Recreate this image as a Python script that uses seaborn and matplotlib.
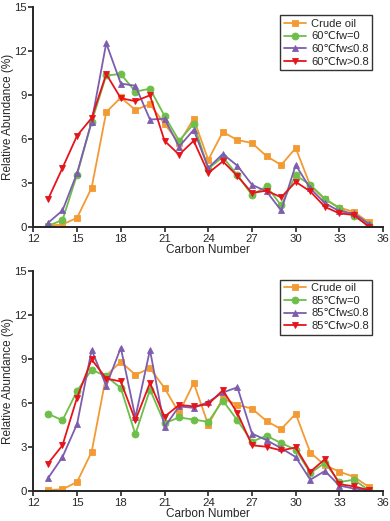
import numpy as np
import pandas as pd
import seaborn as sns
import matplotlib.pyplot as plt

# --- data (relative abundance, %) ---
carbon = list(range(13, 36))

crude_top = [0.05, 0.15, 0.6, 2.65, 7.8, 8.8, 7.95, 8.35, 7.0, 5.7, 7.35, 4.55,
             6.45, 5.9, 5.7, 4.8, 4.2, 5.35, 2.8, 1.85, 1.3, 1.0, 0.3]
fw0_60 = [0.05, 0.45, 3.55, 7.15, 10.3, 10.4, 9.2, 9.4, 7.55, 5.85, 7.0, 3.95,
          4.75, 3.5, 2.15, 2.75, 1.45, 3.5, 2.85, 1.9, 1.25, 0.7, 0.1]
fwle_60 = [0.25, 1.1, 3.65, 7.15, 12.5, 9.75, 9.6, 7.3, 7.35, 5.45, 6.6, 4.0,
           4.95, 4.15, 2.85, 2.4, 1.1, 4.2, 2.6, 1.6, 1.05, 0.9, 0.2]
fwgt_60 = [1.85, 4.0, 6.2, 7.4, 10.4, 8.75, 8.55, 8.95, 5.85, 4.9, 5.85, 3.65,
           4.45, 3.45, 2.3, 2.45, 2.0, 3.05, 2.4, 1.35, 0.9, 0.8, 0.0]

crude_bot = [0.05, 0.1, 0.6, 2.65, 7.85, 8.8, 7.9, 8.35, 7.0, 5.3, 7.35, 4.5,
             6.3, 5.85, 5.6, 4.75, 4.2, 5.25, 2.6, 1.75, 1.3, 0.95, 0.27]
fw0_85 = [5.25, 4.8, 6.8, 8.25, 7.8, 7.0, 3.85, 6.9, 4.6, 5.0, 4.85, 4.7,
          6.15, 4.8, 3.35, 3.75, 3.25, 2.8, 1.2, 1.9, 0.6, 0.75, 0.05]
fwle_85 = [0.85, 2.3, 4.55, 9.6, 7.15, 9.75, 5.0, 9.6, 4.35, 5.75, 5.65, 6.05,
           6.7, 7.05, 3.9, 3.45, 2.9, 2.3, 0.75, 1.35, 0.35, 0.15, 0.05]
fwgt_85 = [1.85, 3.1, 6.35, 8.95, 7.65, 7.45, 4.8, 7.35, 5.05, 5.85, 5.75, 5.9,
           6.85, 5.3, 3.1, 3.0, 2.75, 2.95, 1.3, 2.15, 0.45, 0.3, 0.05]

labels_top = ["Crude oil", "60\u2103fw=0", "60\u2103fw\u22640.8", "60\u2103fw>0.8"]
labels_bot = ["Crude oil", "85\u2103fw=0", "85\u2103fw\u22640.8", "85\u2103fw>0.8"]

colors = ["#F39A34", "#6DBF4A", "#7D5DAE", "#E5141B"]
markers = ["s", "o", "^", "v"]

sns.set_style("ticks")
plt.rcParams['font.family'] = ['Liberation Sans', 'DejaVu Sans']

fig = plt.figure(figsize=(3.9, 5.21), dpi=100)
ax_top = fig.add_axes([0.0855, 0.565, 0.897, 0.4225])
ax_bot = fig.add_axes([0.0855, 0.058, 0.897, 0.4225])


def draw_panel(ax, series, labels):
    for vals, lab, col, mk in zip(series, labels, colors, markers):
        df = pd.DataFrame({"Carbon": carbon, "Abund": vals})
        sns.lineplot(data=df, x="Carbon", y="Abund", ax=ax, color=col,
                     marker=mk, markersize=5, markeredgewidth=0.6,
                     markeredgecolor=col, linewidth=1.3, label=lab)
    ax.set_xlim(12, 36)
    ax.set_ylim(0, 15)
    ax.set_xticks(np.arange(12, 37, 3))
    ax.set_yticks(np.arange(0, 16, 3))
    ax.set_xlabel("Carbon Number", fontsize=8.5, labelpad=0)
    ax.set_ylabel("Relative Abundance (%)", fontsize=8.5)
    ax.yaxis.set_label_coords(-0.056, 0.5)
    ax.tick_params(axis="both", labelsize=8.2, length=3.5, width=1.2,
                   direction="out", pad=1.5)
    for s in ["left", "bottom"]:
        ax.spines[s].set_linewidth(1.4)
    sns.despine(ax=ax)
    leg = ax.legend(loc="upper right", fontsize=8, frameon=True,
                    fancybox=False, edgecolor="#333333", framealpha=1,
                    handlelength=2.0, handletextpad=0.5, labelspacing=0.25,
                    borderpad=0.3, bbox_to_anchor=(0.985, 0.985))
    leg.get_frame().set_linewidth(1.0)


draw_panel(ax_top, [crude_top, fw0_60, fwle_60, fwgt_60], labels_top)
draw_panel(ax_bot, [crude_bot, fw0_85, fwle_85, fwgt_85], labels_bot)

fig.savefig("out.png", dpi=100)
